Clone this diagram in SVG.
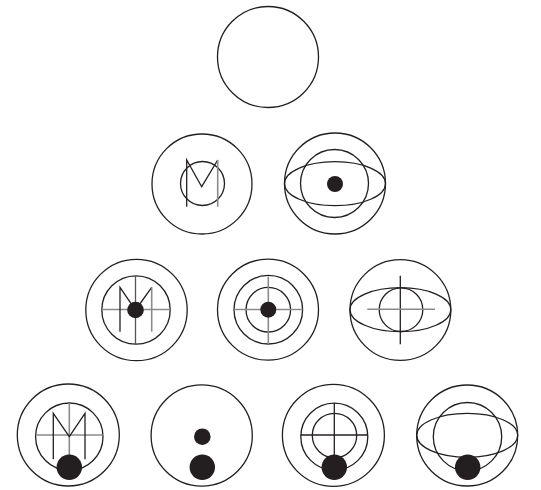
<svg xmlns="http://www.w3.org/2000/svg" width="541" height="490" viewBox="0 0 541 490">
<style>
.o{fill:none;stroke:#231f20;stroke-width:1.3}
.g{fill:none;stroke:#8a8a8a;stroke-width:1.6}
.d{fill:#231f20;stroke:none}
</style>
<rect width="541" height="490" fill="#fff"/>
<g id="n1">
<circle class="o" cx="268" cy="57" r="50.5"/>
</g>
<g id="n2">
<circle class="o" cx="202" cy="184" r="50"/>
<circle class="o" cx="202.5" cy="183.5" r="22"/>
<polyline class="o" points="186.7,206.7 186.7,160 201.7,186.7 217.7,160"/>
<line class="g" x1="217.7" y1="160" x2="217.7" y2="206.7"/>
</g>
<g id="n3">
<circle class="o" cx="335" cy="183.5" r="50.5"/>
<circle class="o" cx="334.5" cy="183.5" r="34"/>
<ellipse class="o" cx="335" cy="183.7" rx="50.5" ry="22"/>
<circle class="d" cx="335" cy="184" r="8"/>
</g>
<g id="n4">
<circle class="o" cx="136.5" cy="310" r="50.7"/>
<circle class="o" cx="136" cy="310" r="34.2"/>
<line class="g" x1="101.8" y1="309.5" x2="170.2" y2="309.5"/>
<line class="o" x1="135.5" y1="275.8" x2="135.5" y2="344.2" style="stroke:#555"/>
<polyline class="o" points="120,331.7 120,287.3 135.5,310 151.7,287.3"/>
<line class="g" x1="151.7" y1="287.3" x2="151.7" y2="331.7"/>
<circle class="d" cx="135.5" cy="310" r="8.3"/>
</g>
<g id="n5">
<circle class="o" cx="268" cy="309.7" r="50.5"/>
<circle class="o" cx="268.3" cy="309.7" r="34.3"/>
<circle class="o" cx="268.3" cy="309.7" r="22.3"/>
<line class="g" x1="234" y1="309.5" x2="302.6" y2="309.5"/>
<line class="g" x1="268.3" y1="276.5" x2="268.3" y2="344.2"/>
<circle class="d" cx="268.3" cy="309.7" r="8"/>
</g>
<g id="n6">
<circle class="o" cx="400.4" cy="310" r="50.4"/>
<ellipse class="o" cx="400.4" cy="309.7" rx="50.4" ry="22"/>
<circle class="o" cx="401" cy="309.7" r="21.8"/>
<line class="o" x1="400.3" y1="275.7" x2="400.3" y2="344.3"/>
<line class="g" x1="367.3" y1="309.3" x2="435" y2="309.3"/>
</g>
<g id="n7">
<circle class="o" cx="68.3" cy="435" r="51"/>
<circle class="o" cx="69.3" cy="436.7" r="33.7"/>
<line class="g" x1="35.8" y1="435" x2="102.8" y2="435"/>
<line class="g" x1="69.3" y1="403" x2="69.3" y2="460"/>
<polyline class="o" points="53.3,459.3 53.3,413.3 69.3,436.7 85,413.3 85,459.3"/>
<circle class="d" cx="69.3" cy="467.3" r="12.7"/>
</g>
<g id="n8">
<circle class="o" cx="201.7" cy="435.5" r="50.6"/>
<circle class="d" cx="202.3" cy="436.7" r="8.3"/>
<circle class="d" cx="202.3" cy="467.3" r="12.7"/>
</g>
<g id="n9">
<circle class="o" cx="333.4" cy="435.3" r="51"/>
<circle class="o" cx="334.3" cy="436.7" r="33.5"/>
<circle class="o" cx="334.5" cy="435.5" r="22.2"/>
<line class="o" x1="300.8" y1="435" x2="367.8" y2="435"/>
<line class="o" x1="334.3" y1="403" x2="334.3" y2="460"/>
<circle class="d" cx="334.3" cy="467.3" r="12.7"/>
</g>
<g id="n10">
<circle class="o" cx="467.2" cy="435.5" r="50.5"/>
<circle class="o" cx="467.5" cy="436.7" r="34.2"/>
<ellipse class="o" cx="467.2" cy="435.3" rx="50.5" ry="22"/>
<circle class="d" cx="467.7" cy="467.3" r="12.7"/>
</g>
<g id="connectors"></g>
</svg>
